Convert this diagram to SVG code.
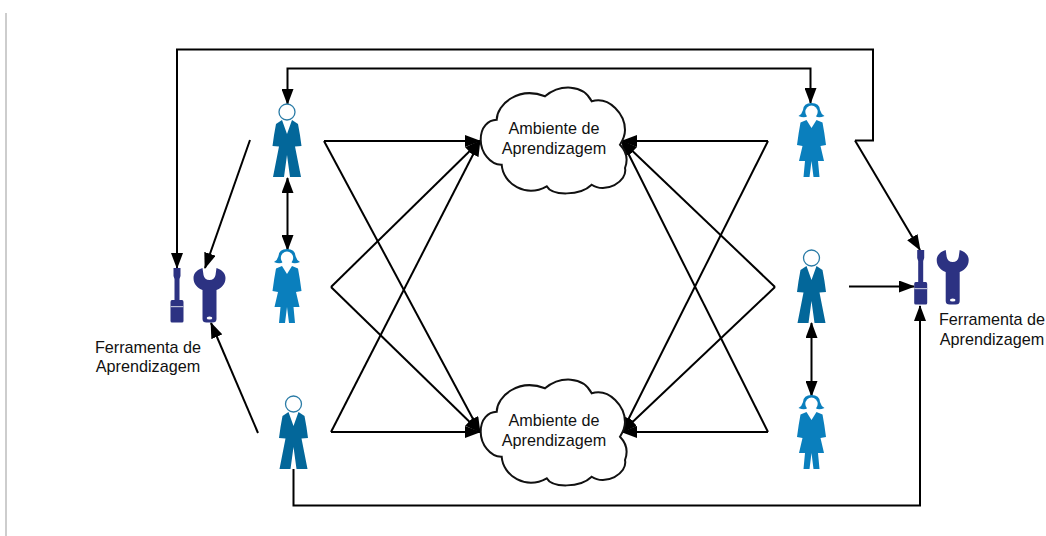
<svg xmlns="http://www.w3.org/2000/svg" width="1046" height="536" viewBox="0 0 1046 536">
<style>
.c{fill:none;stroke:#000;stroke-width:2;stroke-linejoin:miter}
.a{marker-end:url(#ah)}
.b{marker-start:url(#ah);marker-end:url(#ah)}
.t{font-family:"Liberation Sans",Arial,sans-serif;font-size:16.2px;fill:#111;text-anchor:middle}
.cl{fill:#fff;stroke:#111;stroke-width:2}
</style>
<defs>
<marker id="ah" viewBox="0 0 16 12" refX="15" refY="6" markerWidth="16" markerHeight="12" markerUnits="userSpaceOnUse" orient="auto-start-reverse"><path d="M0,0L16,6L0,12Z" fill="#000"/></marker>
<g id="man">
<circle cx="0" cy="0" r="8" fill="#fff" stroke="#2a7ba6" stroke-width="1.300"/>
<path fill="#03679a" d="M-5,8L0,22L5,8L11,12Q13,22 14.500,34L8,34.500L14,65L3,65L0,43L-3,65L-14,65L-8,34.500L-14.500,34Q-13,22 -11,12Z"/>
</g>
<g id="woman">
<path fill="#0a7fbd" d="M0,-9Q8,-9 8.500,-2Q9.500,2 13,4Q7,6.500 4,4L-4,4Q-7,6.500 -13,4Q-9.500,2 -8.500,-2Q-8,-9 0,-9Z"/>
<ellipse cx="0" cy="0" rx="6.200" ry="6.500" fill="#fff"/>
<path fill="#0a7fbd" d="M-5,8L0,16L5,8L11,10.500Q13,21 14.500,33L9,34L12.500,49L6.500,49L8,65L2,65L0,49L-2,65L-8,65L-6.500,49L-12.500,49L-9,34L-14.500,33Q-13,21 -11,10.500Z"/>
</g>
<g id="screw">
<path fill="#2c3282" d="M-3.500,0L3.500,0L3.500,8L2.500,11L2.500,32L5,32Q6.500,32 6.500,34L6.500,53Q6.500,54.500 5,54.500L-5,54.500Q-6.500,54.500 -6.500,53L-6.500,34Q-6.500,32 -5,32L-2.500,32L-2.500,11L-3.500,8Z"/>
<rect x="-6.500" y="38" width="13" height="1.200" fill="#b9bcd4"/>
</g>
<g id="wrench">
<path fill="#2c3282" d="M-7,0C-12,1.500 -16,5 -16,10C-16,16 -12,20 -7,22L-7,51Q-7,54.500 -3,54.500L3,54.500Q7,54.500 7,51L7,22C12,20 16,16 16,10C16,5 12,1.500 7,0L6,7Q5,12 0,12Q-5,12 -6,7Z"/>
<ellipse cx="0" cy="50" rx="2.800" ry="1.600" fill="#fff"/>
</g>
<path id="cloud" class="cl" d="M480.700,139.700C480.700,127 488,120 496.700,119.700C497,104 519,86 545,96.300C560,84 583,84 591.700,101.300C610,96 625,115 625,130C625,135 623,140 620,144.700C627,152 628,160 625,168C628,182 605,194 591.700,184.700C580,196 552,196 546.700,186.300C526,198 503,184 501.700,164.700C490,165 480.700,152 480.700,139.700Z"/>
</defs>
<line x1="6" y1="13" x2="6" y2="536" stroke="#bdbdbd" stroke-width="1.500"/>
<g id="connectors">
<path class="c a" d="M855,140.500L873,140.500L873,49.500L177,49.500L177,268"/>
<path class="c a" d="M855,140.500L920,250"/>
<path class="c b" d="M287.500,104L287.500,68.500L810.500,68.500L810.500,103"/>
<path class="c a" d="M250,140L205,268"/>
<path class="c a" d="M258,433L211,323"/>
<path class="c b" d="M287.500,178L287.500,250"/>
<path class="c b" d="M811.500,323L811.500,396"/>
<path class="c a" d="M849,286.500L914,286.500"/>
<path class="c a" d="M293.500,469L293.500,505.500L920,505.500L920,306"/>
<path class="c a" d="M324,141L480,141"/>
<path class="c a" d="M324,141L480,432"/>
<path class="c a" d="M331,287L480,141"/>
<path class="c a" d="M331,287L480,432"/>
<path class="c a" d="M331,432L480,141"/>
<path class="c a" d="M331,432L480,432"/>
<path class="c a" d="M768,141L622,141"/>
<path class="c a" d="M768,141L622,432"/>
<path class="c a" d="M775,287L622,141"/>
<path class="c a" d="M775,287L622,432"/>
<path class="c a" d="M768,432L622,141"/>
<path class="c a" d="M768,432L622,432"/>
</g>
<g id="cloud-top"><use href="#cloud"/><text class="t" x="554" y="134">Ambiente de</text><text class="t" x="554" y="154">Aprendizagem</text></g>
<g id="cloud-bottom"><use href="#cloud" y="292"/><text class="t" x="554" y="426">Ambiente de</text><text class="t" x="554" y="446">Aprendizagem</text></g>
<g id="person-l1"><use href="#man" x="287" y="112"/></g>
<g id="person-l2"><use href="#woman" x="287" y="258"/></g>
<g id="person-l3"><use href="#man" x="293.500" y="404"/></g>
<g id="person-r1"><use href="#woman" x="811.500" y="112"/></g>
<g id="person-r2"><use href="#man" x="811.500" y="258"/></g>
<g id="person-r3"><use href="#woman" x="811.500" y="404"/></g>
<g id="tools-left"><use href="#screw" x="177" y="268"/><use href="#wrench" x="209.500" y="268"/><text class="t" x="148" y="353">Ferramenta de</text><text class="t" x="148" y="372">Aprendizagem</text></g>
<g id="tools-right"><use href="#screw" x="920.700" y="250"/><use href="#wrench" x="952.700" y="250"/><text class="t" x="992" y="325">Ferramenta de</text><text class="t" x="992" y="345">Aprendizagem</text></g>
</svg>
